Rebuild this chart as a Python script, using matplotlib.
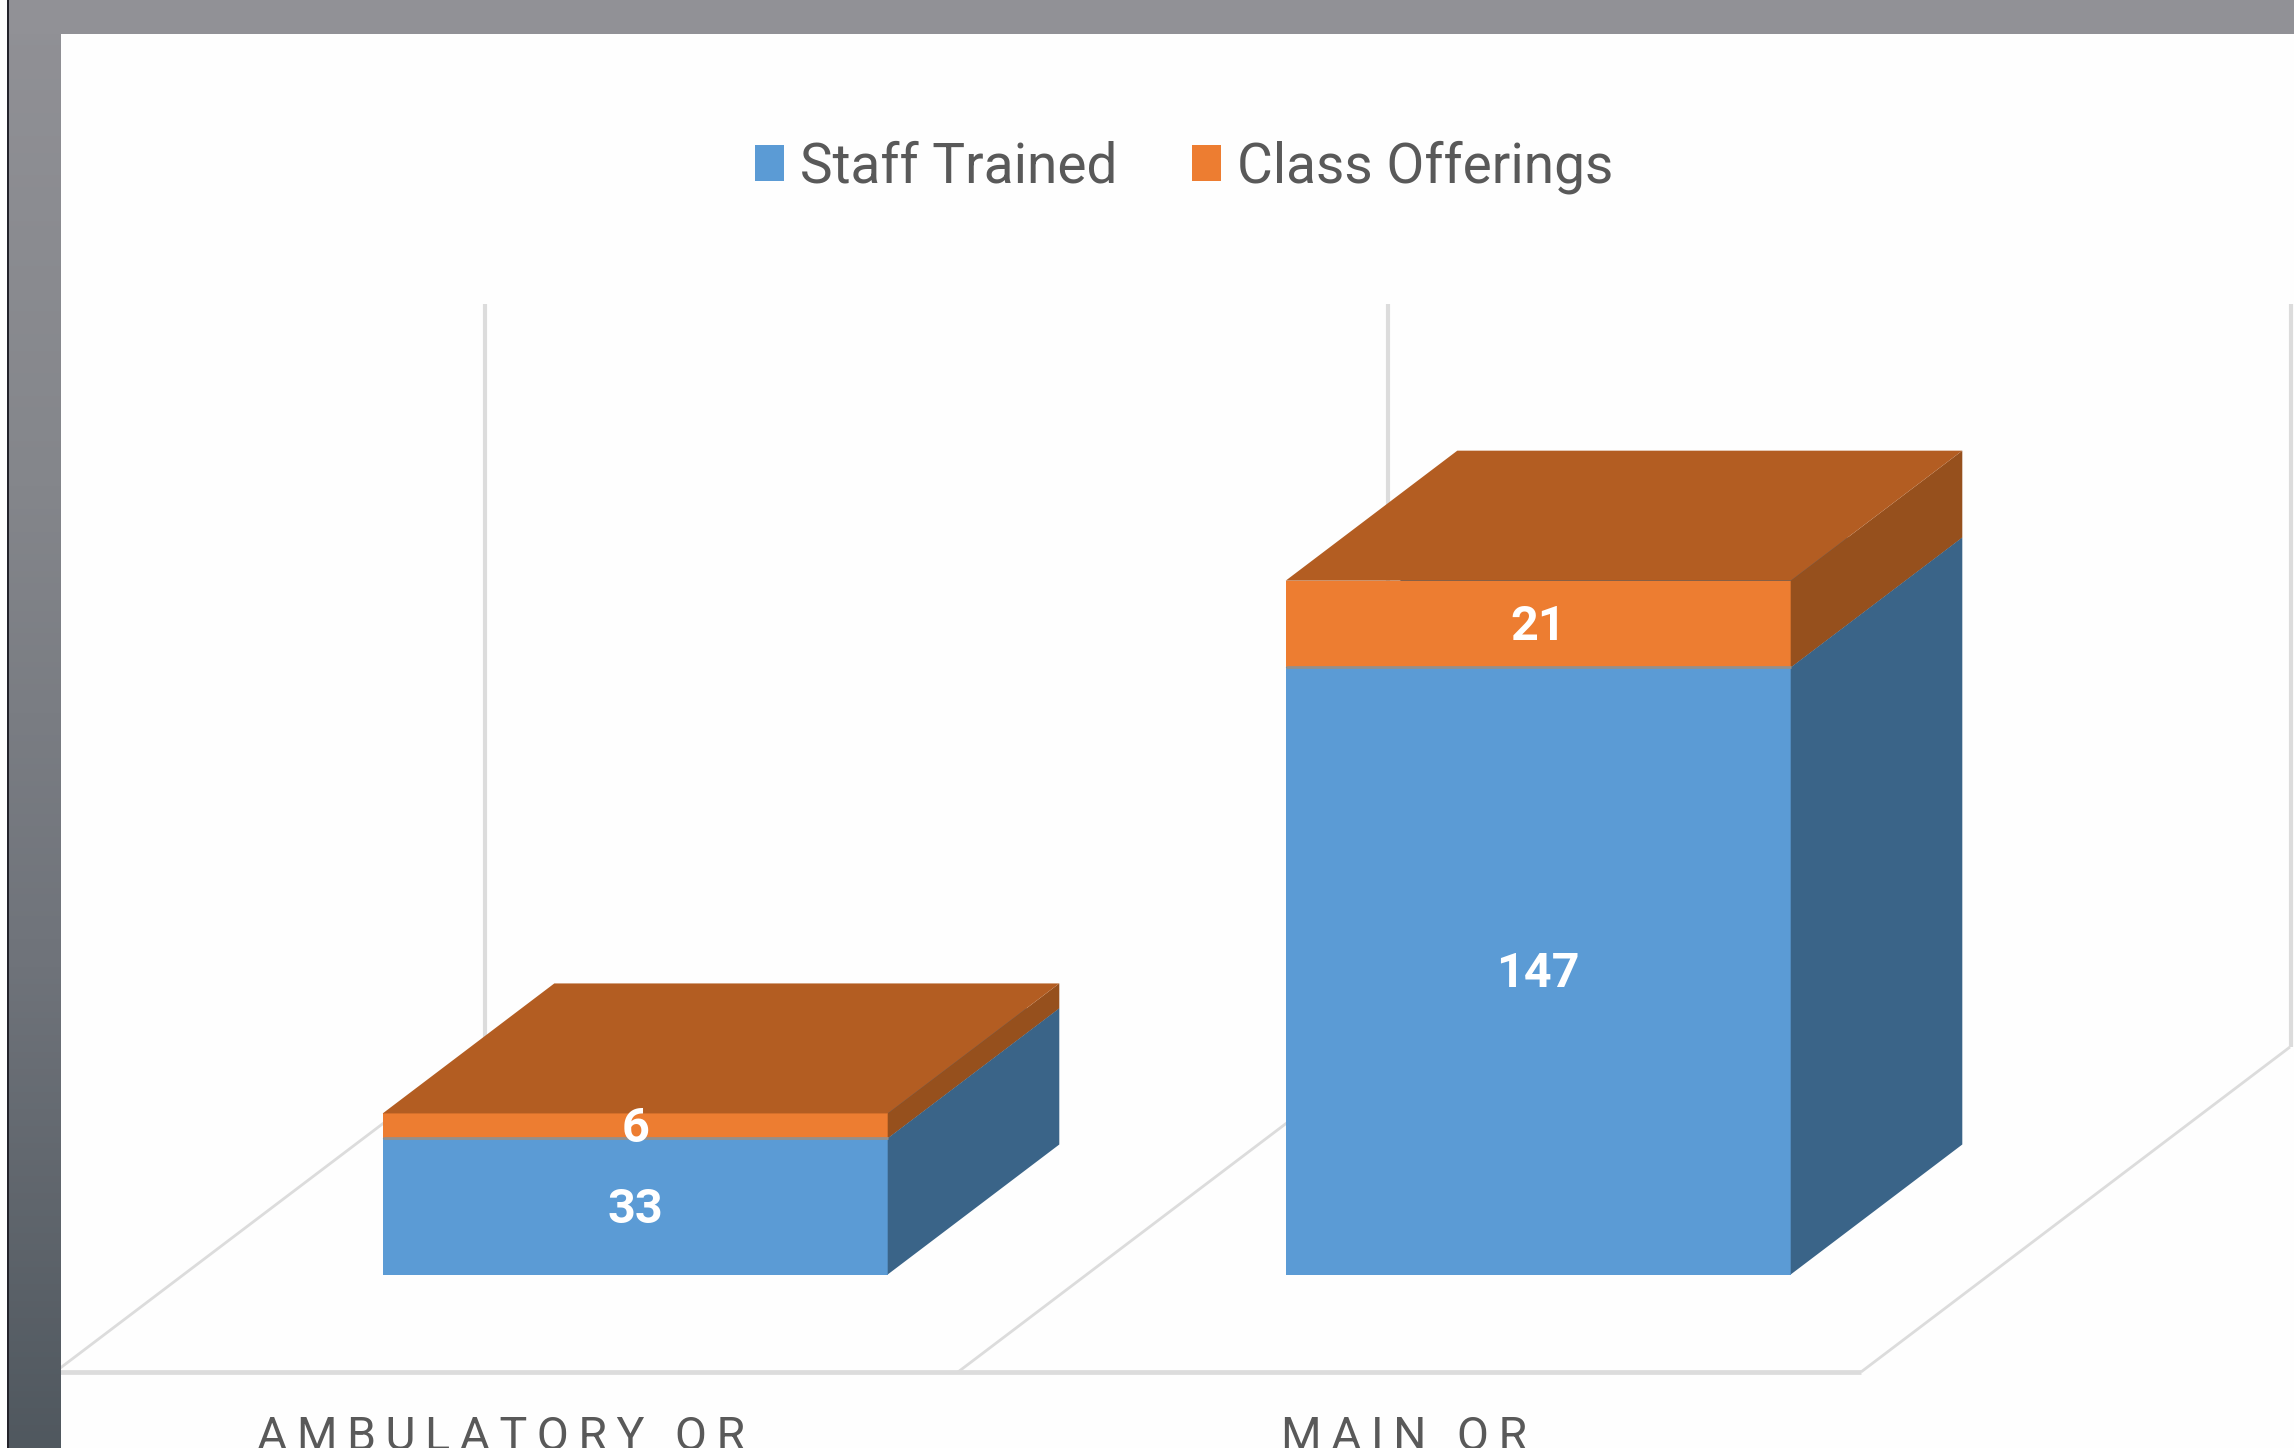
import matplotlib
matplotlib.rcParams['font.family'] = ['Roboto', 'DejaVu Sans']
import matplotlib.pyplot as plt
import numpy as np
from matplotlib.colors import LinearSegmentedColormap
from matplotlib.patches import Patch, Polygon

categories = ['AMBULATORY OR', 'MAIN OR']
staff_trained = [33, 147]
class_offerings = [6, 21]
series_names = ['Staff Trained', 'Class Offerings']
axis_max = 180

W, H = 2294, 1448
PX_X = 903.0    # pixels per category
PX_Y = 4.13     # pixels per value unit
FLOOR_DX = 429 / PX_X    # floor depth, on screen
FLOOR_DY = 325 / PX_Y
BAR_W = 505 / PX_X
D_FRONT, D_BACK = 0.3, 0.7
GRID = '#dcdcdc'

fig = plt.figure(figsize=(W / 100, H / 100), dpi=100, facecolor='#fefefe')
ax = fig.add_axes([0, 0, 1, 1])
x0_px, y0_px = 506.5, 1372.0
ax.set_xlim(-x0_px / PX_X, (W - x0_px) / PX_X)
ax.set_ylim(-(H - y0_px) / PX_Y, y0_px / PX_Y)
ax.axis('off')


def proj(x, v, d):
    # oblique projection, d is 0 at the front of the floor, 1 at the back
    return x + d * FLOOR_DX, v + d * FLOOR_DY


def box(x, v0, v1, front, top, side):
    l, r = x - BAR_W / 2, x + BAR_W / 2
    a, b = D_FRONT, D_BACK
    ax.add_patch(Polygon([proj(l, v0, a), proj(r, v0, a), proj(r, v1, a), proj(l, v1, a)],
                         fc=front, ec='none', zorder=3))
    ax.add_patch(Polygon([proj(r, v0, a), proj(r, v0, b), proj(r, v1, b), proj(r, v1, a)],
                         fc=side, ec='none', zorder=3))
    ax.add_patch(Polygon([proj(l, v1, a), proj(r, v1, a), proj(r, v1, b), proj(l, v1, b)],
                         fc=top, ec='none', zorder=3))


# floor and walls
edges = [i - 0.5 for i in range(len(categories) + 1)]
for e in edges:
    x1, y1 = proj(e, 0, 0)
    x2, y2 = proj(e, 0, 1)
    ax.plot([x1, x2], [y1, y2], color=GRID, lw=2.0, zorder=1, solid_capstyle='butt')
    ax.plot([x2 + 1.5 / PX_X] * 2, [y2, y2 + axis_max], color=GRID, lw=3.0, zorder=1,
            solid_capstyle='butt')
ax.plot([edges[0], edges[-1]], [0, 0], color=GRID, lw=3.4, zorder=1, solid_capstyle='butt')

for i, name in enumerate(categories):
    s, c = staff_trained[i], class_offerings[i]
    box(i, 0, s, '#5b9bd5', '#3a6488', '#3a6488')
    box(i, s, s + c, '#ed7d31', '#b35d22', '#96501d')
    jx, jy = proj(i, s, D_FRONT)
    ax.plot([jx - BAR_W / 2, jx + BAR_W / 2], [jy, jy], color='#94908c', lw=2, zorder=4,
            solid_capstyle='butt')
    px, py = proj(i, s / 2, D_FRONT)
    ax.text(px, py + 0.4, str(s), color='white', fontsize=35, fontweight='bold',
            ha='center', va='center_baseline', zorder=5)
    px, py = proj(i, s + c / 2, D_FRONT)
    ax.text(px, py + 0.4, str(c), color='white', fontsize=35, fontweight='bold',
            ha='center', va='center_baseline', zorder=5)
    ax.text(i - 5 / PX_X, -(1450 - y0_px) / PX_Y, '\u2009'.join(name), color='#595959', fontsize=33.5,
            ha='center', va='baseline', zorder=5)

handles = [Patch(fc='#5b9bd5', label=series_names[0]), Patch(fc='#ed7d31', label=series_names[1])]
leg = ax.legend(handles=handles, ncol=2, loc='center', bbox_to_anchor=(1184 / W, 1 - 167 / H),
                bbox_transform=fig.transFigure, frameon=False, fontsize=39.6, labelcolor='#595959',
                handlelength=0.53, handleheight=0.62, handletextpad=0.29, columnspacing=1.36,
                borderpad=0, borderaxespad=0)

# slide frame around the chart
cmap = LinearSegmentedColormap.from_list('frame', ['#919196', '#84868b', '#6f737a', '#50585f'])
grad = np.linspace(0, 1, 256).reshape(-1, 1)
left = fig.add_axes([9 / W, 0, 52 / W, 1], zorder=6)
left.imshow(grad, aspect='auto', cmap=cmap, vmin=0, vmax=1)
left.axis('off')
top = fig.add_axes([9 / W, 1 - 34 / H, 1 - 9 / W, 34 / H], zorder=6)
top.imshow(np.zeros((2, 2)), aspect='auto', cmap=cmap, vmin=0, vmax=1)
top.axis('off')
line = fig.add_axes([7 / W, 0, 2 / W, 1], zorder=6, facecolor='#23232b')
line.set_xticks([])
line.set_yticks([])
for sp in line.spines.values():
    sp.set_visible(False)

fig.savefig('out.png', dpi=100, facecolor=fig.get_facecolor())
